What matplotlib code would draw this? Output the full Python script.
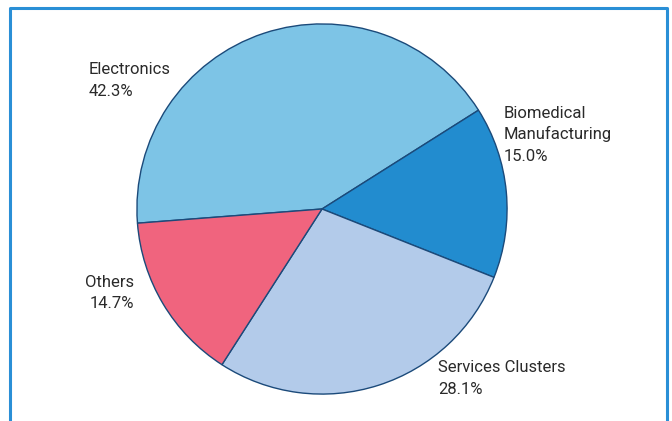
import matplotlib.pyplot as plt
from matplotlib.lines import Line2D

W, H = 672, 421

sectors = ["Electronics", "Biomedical\nManufacturing", "Services Clusters", "Others"]
shares = [42.3, 15.0, 28.1, 14.7]
colors = ["#7dc4e6", "#228ccf", "#b3cbea", "#f0647e"]

# label anchor (pixel x, baseline y of first line, alignment)
label_pos = [(89, 74, "left"), (504, 118, "left"), (438, 372, "left"), (134, 287, "right")]
LINE_H = 21.5

plt.rcParams["font.family"] = ["Roboto", "DejaVu Sans"]

fig = plt.figure(figsize=(W / 100, H / 100), dpi=100)

# pie axes: centre (322, 209) px, radius 186 px
cx, cy, r = 322, 209, 186
ax = fig.add_axes([(cx - r) / W, (H - cy - r) / H, 2 * r / W, 2 * r / H])
ax.pie(
    shares,
    colors=colors,
    startangle=184.4,
    counterclock=False,
    radius=1,
    wedgeprops=dict(edgecolor="#1b4a7a", linewidth=1.0),
)
ax.set_xlim(-1.005, 1.005)
ax.set_ylim(-1.005, 1.005)
ax.axis("off")

for name, val, (px, py, ha) in zip(sectors, shares, label_pos):
    lines = name.split("\n") + [f"{val:.1f}%"]
    for i, line in enumerate(lines):
        fig.text(px / W, 1 - (py + i * LINE_H) / H, line,
                 ha=ha, va="baseline", fontsize=12, color="#2a2a2a")

# blue frame, open at the bottom
frame = Line2D([10 / W, 10 / W, 667 / W, 667 / W],
               [0, 1 - 8 / H, 1 - 8 / H, 0],
               transform=fig.transFigure, color="#2a8fd6", linewidth=2.2)
fig.add_artist(frame)

fig.savefig("out.png", dpi=100)
